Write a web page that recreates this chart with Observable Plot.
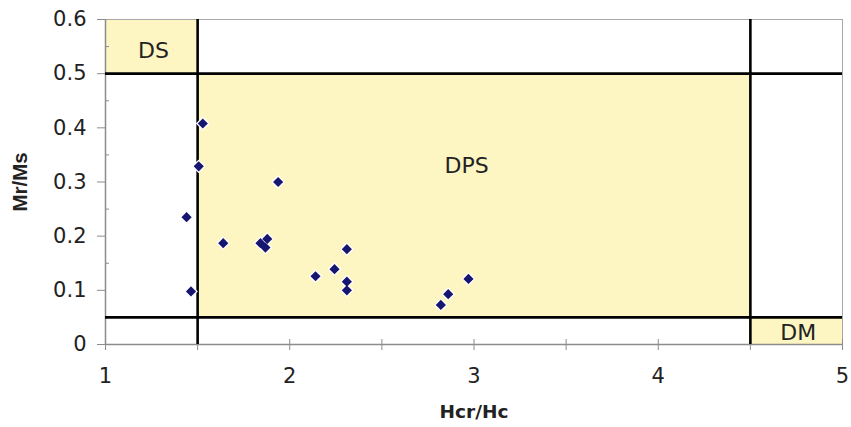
<!DOCTYPE html>
<html>
<head>
<meta charset="utf-8">
<script src="https://cdn.jsdelivr.net/npm/d3@7"></script>
<script src="https://cdn.jsdelivr.net/npm/@observablehq/plot@0.6"></script>
<style>
  html, body { margin: 0; padding: 0; background: #fff; }
  #chart svg { display: block; }
</style>
</head>
<body>
<div id="chart"></div>
<script>
// Sample data: Hcr/Hc vs Mr/Ms
const hcrHc = [1.528, 1.506, 1.937, 1.44, 1.639, 1.841, 1.878, 1.868, 1.464, 2.31, 2.243, 2.14, 2.31, 2.31, 2.97, 2.86, 2.82];
const mrMs  = [0.408, 0.329, 0.300, 0.235, 0.187, 0.187, 0.195, 0.179, 0.098, 0.176, 0.139, 0.126, 0.116, 0.100, 0.121, 0.093, 0.073];

// Day-plot domain regions
const regionNames = ["DS", "DPS", "DM"];
const regionX1 = [1, 1.5, 4.5];
const regionX2 = [1.5, 4.5, 5];
const regionY1 = [0.5, 0.05, 0];
const regionY2 = [0.6, 0.5, 0.05];
const labelX = [1.26, 2.96, 4.76];
const labelY = [0.542, 0.33, 0.021];

// Boundaries
const boundaryX = [1.5, 4.5];
const boundaryY = [0.05, 0.5];

// Ticks
const xTicksMajor = [1, 2, 3, 4, 5];
const xTicksAll = [1, 1.5, 2, 2.5, 3, 3.5, 4, 4.5, 5];
const yTicksMajor = [0, 0.1, 0.2, 0.3, 0.4, 0.5, 0.6];
const yTicksMinor = [0.05, 0.15, 0.25, 0.35, 0.45, 0.55];

const points = hcrHc.map((x, i) => ({x, y: mrMs[i]}));
const regions = regionNames.map((name, i) => ({
  name, x1: regionX1[i], x2: regionX2[i], y1: regionY1[i], y2: regionY2[i], lx: labelX[i], ly: labelY[i]
}));

const fill = "#fef6c2";
const axisGray = "#8c8c8c";

const chart = Plot.plot({
  width: 851,
  height: 427,
  marginLeft: 105,
  marginRight: 9,
  marginTop: 19,
  marginBottom: 83,
  style: {fontFamily: "'DejaVu Sans', sans-serif", fontSize: "21px", color: "#222", background: "#fff"},
  x: {type: "linear", domain: [1, 5]},
  y: {type: "linear", domain: [0, 0.6]},
  marks: [
    Plot.rect(regions, {x1: "x1", x2: "x2", y1: "y1", y2: "y2", fill: fill}),
    Plot.frame({stroke: "#a8a8a8", strokeWidth: 1}),
    Plot.ruleY([0], {stroke: axisGray, strokeWidth: 1.5}),
    Plot.ruleX([1], {stroke: axisGray, strokeWidth: 1.5}),
    Plot.axisX({ticks: xTicksMajor, tickSize: 0, tickPadding: 24, tickFormat: d => String(d), label: null, fontSize: 21}),
    Plot.axisX({ticks: xTicksAll, tickSize: 6, tickFormat: () => "", label: null, stroke: axisGray}),
    Plot.axisX({ticks: xTicksAll, tickSize: -5, tickFormat: () => "", label: null, stroke: axisGray}),
    Plot.axisY({ticks: yTicksMajor, tickSize: 8, tickPadding: 11, tickFormat: d => d === 0 ? "0" : d3.format(".1f")(d), label: null, stroke: axisGray, fontSize: 21}),
    Plot.axisY({ticks: yTicksMinor, tickSize: -4, tickFormat: () => "", label: null, stroke: axisGray}),
    Plot.ruleX(boundaryX, {stroke: "#000", strokeWidth: 2.6}),
    Plot.ruleY(boundaryY, {stroke: "#000", strokeWidth: 2.6}),
    Plot.text(regions, {x: "lx", y: "ly", text: "name", fontSize: 22, fill: "#222", fontFamily: "'DejaVu Sans', sans-serif"}),
    Plot.dot(points, {x: "x", y: "y", symbol: "diamond2", r: 6.2, fill: "#fff", stroke: "none"}),
    Plot.dot(points, {x: "x", y: "y", symbol: "diamond2", r: 4.6, fill: "#161670", stroke: "none"}),
    Plot.text(["Hcr/Hc"], {frameAnchor: "bottom", dy: 73, text: d => d, fontWeight: "bold", fontSize: 18.5, fill: "#222", fontFamily: "'DejaVu Sans', sans-serif"}),
    Plot.text(["Mr/Ms"], {frameAnchor: "left", textAnchor: "middle", dx: -85, dy: 0, rotate: -90, text: d => d, fontWeight: "bold", fontSize: 20.5, fill: "#222", fontFamily: "'Liberation Sans', Arial, sans-serif"})
  ]
});
document.getElementById("chart").appendChild(chart);
</script>
</body>
</html>
